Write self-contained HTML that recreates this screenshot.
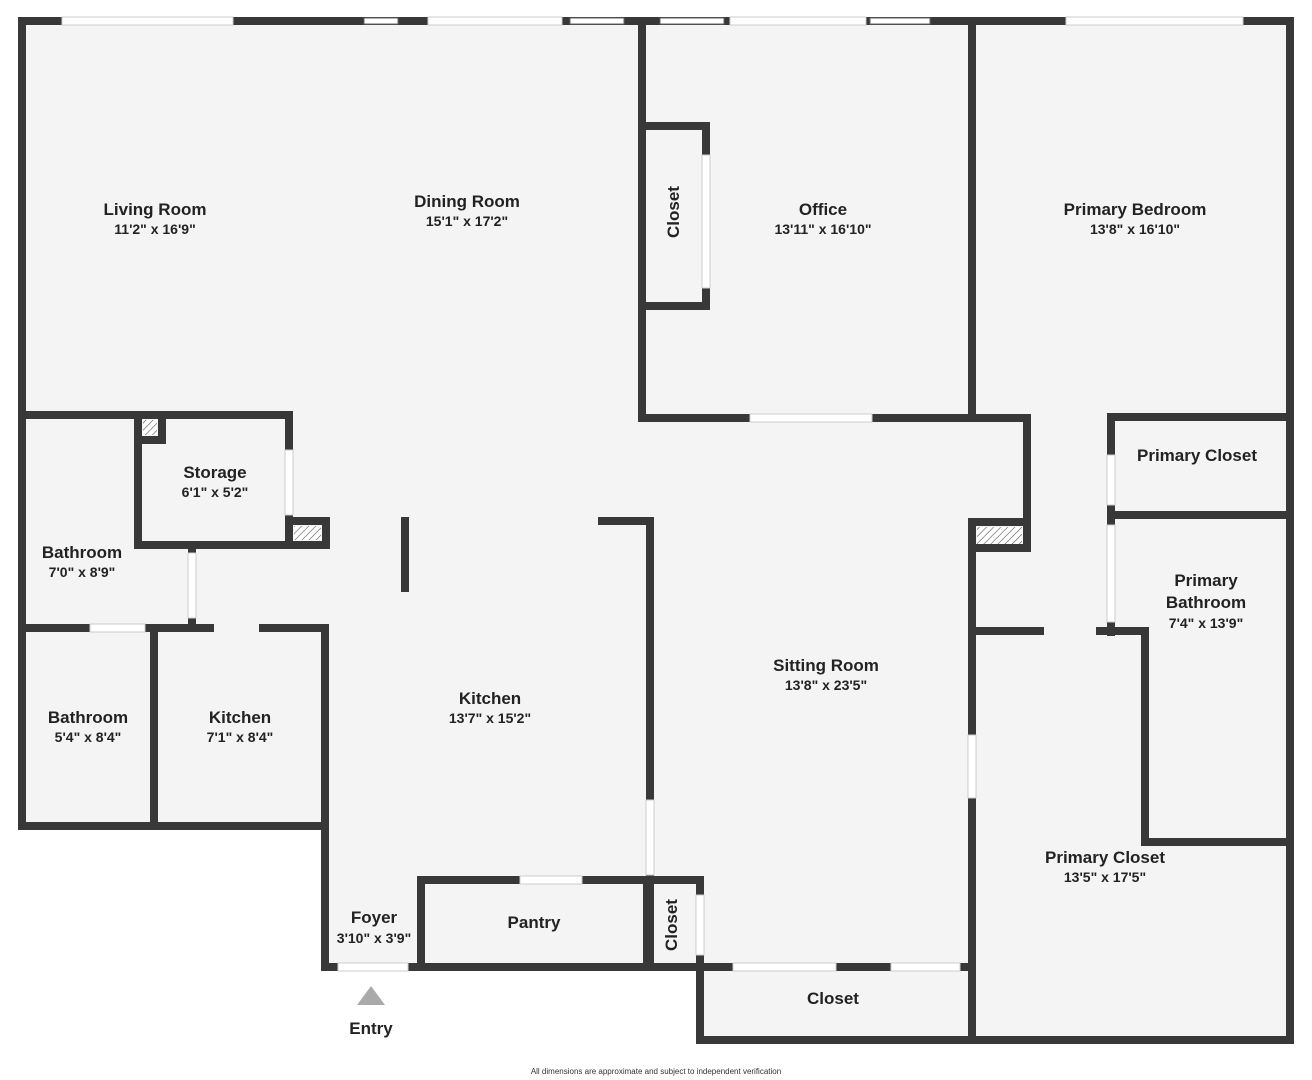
<!DOCTYPE html>
<html><head><style>
body{margin:0;background:#fff;}
svg{display:block;font-family:"Liberation Sans",sans-serif;}
.t{font-weight:bold;font-size:17px;fill:#222;text-anchor:middle;}
.d{font-weight:bold;font-size:14px;fill:#222;text-anchor:middle;}
</style></head><body>
<svg width="1312" height="1080" viewBox="0 0 1312 1080" xmlns="http://www.w3.org/2000/svg">
<defs><pattern id="h" width="5" height="5" patternUnits="userSpaceOnUse" patternTransform="rotate(45)"><rect width="5" height="5" fill="#fff"/><line x1="0" y1="0" x2="0" y2="5" stroke="#555" stroke-width="1.2"/></pattern></defs>
<polygon points="22,21 1290,21 1290,1040 700,1040 700,967 325,967 325,826 22,826" fill="#f4f4f4"/>
<g stroke="#383838" stroke-width="8" fill="none" stroke-linecap="square">
<path d="M22,21 H1290 V1040 H700 V967 H325 V826 H22 Z"/>
<path d="M700,967 H972"/>
<path d="M22,415 H289 V545 H138 V415"/>
<path d="M138,415 H162 V440 H138 Z"/>
<path d="M289,521 H326 V545 H289 Z"/>
<path d="M192,545 V628"/>
<path d="M22,628 H210 M263,628 H325 V967"/>
<path d="M154,628 V826"/>
<path d="M405,521 V588"/>
<path d="M602,521 H650 V967"/>
<path d="M421,880 H700 V967 M421,880 V967 M647,880 V967"/>
<path d="M642,21 V418 H1027 V548"/>
<path d="M642,126 H706 V306 H642"/>
<path d="M972,21 V418 M972,522 V1040"/>
<path d="M972,522 H1027 V548 H972"/>
<path d="M1111,417 H1290 M1111,417 V632 M1111,515 H1290"/>
<path d="M972,631 H1040 M1100,631 H1145 V842 H1290"/>
</g>
<g fill="#fff" stroke="#ccc" stroke-width="1">
<rect x="62" y="17" width="171" height="8"/><rect x="428" y="17" width="134" height="8"/>
<rect x="730" y="17" width="136" height="8"/><rect x="1066" y="17" width="177" height="8"/>
<rect x="285" y="450" width="8" height="65"/><rect x="188" y="553" width="8" height="65"/>
<rect x="90" y="624" width="55" height="8"/><rect x="646" y="800" width="8" height="75"/>
<rect x="520" y="876" width="62" height="8"/><rect x="696" y="895" width="8" height="60"/>
<rect x="338" y="963" width="70" height="8"/><rect x="733" y="963" width="103" height="8"/>
<rect x="891" y="963" width="69" height="8"/><rect x="750" y="414" width="122" height="8"/>
<rect x="702" y="155" width="8" height="133"/><rect x="968" y="735" width="8" height="63"/>
<rect x="1107" y="455" width="8" height="50"/><rect x="1107" y="525" width="8" height="97"/>
</g>
<g fill="#fff" stroke="#666" stroke-width="1">
<rect x="364" y="18" width="34" height="6"/><rect x="570" y="18" width="54" height="6"/>
<rect x="660" y="18" width="64" height="6"/><rect x="870" y="18" width="60" height="6"/>
</g>
<rect x="143" y="420" width="14" height="15" fill="url(#h)"/>
<rect x="294" y="526" width="27" height="14" fill="url(#h)"/>
<rect x="977" y="527" width="45" height="17" fill="url(#h)"/>
<polygon points="371,986 357,1005 385,1005" fill="#aaa"/>
<text class="t" x="155" y="215">Living Room</text><text class="d" x="155" y="234">11'2" x 16'9"</text>
<text class="t" x="467" y="207">Dining Room</text><text class="d" x="467" y="226">15'1" x 17'2"</text>
<text class="t" x="823" y="215">Office</text><text class="d" x="823" y="234">13'11" x 16'10"</text>
<text class="t" x="1135" y="215">Primary Bedroom</text><text class="d" x="1135" y="234">13'8" x 16'10"</text>
<text class="t" transform="translate(679,212) rotate(-90)">Closet</text>
<text class="t" x="215" y="478">Storage</text><text class="d" x="215" y="497">6'1" x 5'2"</text>
<text class="t" x="82" y="558">Bathroom</text><text class="d" x="82" y="577">7'0" x 8'9"</text>
<text class="t" x="88" y="723">Bathroom</text><text class="d" x="88" y="742">5'4" x 8'4"</text>
<text class="t" x="240" y="723">Kitchen</text><text class="d" x="240" y="742">7'1" x 8'4"</text>
<text class="t" x="490" y="704">Kitchen</text><text class="d" x="490" y="723">13'7" x 15'2"</text>
<text class="t" x="826" y="671">Sitting Room</text><text class="d" x="826" y="690">13'8" x 23'5"</text>
<text class="t" x="1197" y="461">Primary Closet</text>
<text class="t" x="1206" y="586">Primary</text><text class="t" x="1206" y="608">Bathroom</text><text class="d" x="1206" y="628">7'4" x 13'9"</text>
<text class="t" x="1105" y="863">Primary Closet</text><text class="d" x="1105" y="882">13'5" x 17'5"</text>
<text class="t" x="374" y="923">Foyer</text><text class="d" x="374" y="943">3'10" x 3'9"</text>
<text class="t" x="534" y="928">Pantry</text>
<text class="t" transform="translate(677,925) rotate(-90)">Closet</text>
<text class="t" x="833" y="1004">Closet</text>
<text class="t" x="371" y="1034">Entry</text>
<text x="656" y="1074" font-size="8" fill="#333" text-anchor="middle">All dimensions are approximate and subject to independent verification</text>
</svg>
</body></html>
